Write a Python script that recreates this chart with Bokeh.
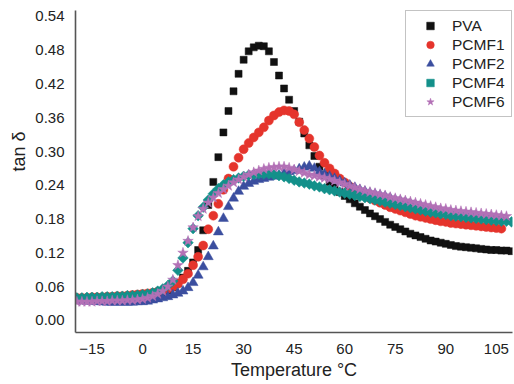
import math
from bokeh.plotting import figure
from bokeh.models import FixedTicker, NumeralTickFormatter, Range1d, Legend, LegendItem
from bokeh.embed import file_html
from bokeh.resources import INLINE

temperature = [-19.5, -18, -16.5, -15, -13.5, -12, -10.5, -9, -7.5, -6, -4.5, -3, -1.5, 0,
               1.5, 3, 4.5, 6, 7.5, 9, 10.5, 12, 13.5, 15, 16.5, 18, 19.5, 21, 22.5, 24,
               25.5, 27, 28.5, 30, 31.5, 33, 34.5, 36, 37.5, 39, 40.5, 42, 43.5, 45, 46.5,
               48, 49.5, 51, 52.5, 54, 55.5, 57, 58.5, 60, 61.5, 63, 64.5, 66, 67.5, 69,
               70.5, 72, 73.5, 75, 76.5, 78, 79.5, 81, 82.5, 84, 85.5, 87, 88.5, 90, 91.5,
               93, 94.5, 96, 97.5, 99, 100.5, 102, 103.5, 105, 106.5, 108, 109.5]

pva = [0.036, 0.036, 0.036, 0.037, 0.037, 0.037, 0.038, 0.038, 0.038, 0.039, 0.039, 0.040, 0.040, 0.041,
       0.042, 0.043, 0.045, 0.048, 0.053, 0.059, 0.066, 0.076, 0.088, 0.103, 0.125, 0.160, 0.205, 0.246,
       0.290, 0.334, 0.372, 0.407, 0.438, 0.463, 0.478, 0.485, 0.488, 0.487, 0.478, 0.459, 0.435, 0.412,
       0.392, 0.372, 0.353, 0.332, 0.311, 0.292, 0.273, 0.258, 0.246, 0.236, 0.228, 0.221, 0.215, 0.208,
       0.202, 0.196, 0.190, 0.185, 0.180, 0.175, 0.170, 0.166, 0.162, 0.158, 0.154, 0.151, 0.148, 0.145,
       0.142, 0.140, 0.138, 0.136, 0.134, 0.132, 0.131, 0.130, 0.129, 0.128, 0.127, 0.126, 0.125, 0.125,
       0.124, 0.124, 0.123]

pcmf1 = [0.040, 0.040, 0.040, 0.041, 0.041, 0.041, 0.042, 0.042, 0.043, 0.043, 0.044, 0.045, 0.046, 0.047,
         0.048, 0.049, 0.051, 0.053, 0.056, 0.060, 0.065, 0.073, 0.083, 0.098, 0.113, 0.133, 0.162, 0.186,
         0.207, 0.232, 0.252, 0.273, 0.289, 0.304, 0.315, 0.325, 0.334, 0.343, 0.355, 0.364, 0.370, 0.373,
         0.372, 0.366, 0.352, 0.338, 0.323, 0.308, 0.293, 0.280, 0.270, 0.261, 0.252, 0.245, 0.238, 0.232,
         0.227, 0.222, 0.217, 0.213, 0.209, 0.205, 0.201, 0.198, 0.195, 0.192, 0.189, 0.186, 0.184, 0.182,
         0.180, 0.178, 0.176, 0.175, 0.173, 0.172, 0.171, 0.170, 0.169, 0.168, 0.167, 0.166, 0.165, 0.164,
         0.163]

pcmf2 = [0.035, 0.035, 0.034, 0.034, 0.033, 0.033, 0.032, 0.032, 0.032, 0.032, 0.032, 0.032, 0.033, 0.033,
         0.034, 0.036, 0.038, 0.040, 0.042, 0.045, 0.048, 0.052, 0.058, 0.067, 0.080, 0.095, 0.113, 0.132,
         0.157, 0.181, 0.202, 0.217, 0.229, 0.238, 0.243, 0.247, 0.250, 0.252, 0.254, 0.256, 0.258, 0.261,
         0.264, 0.266, 0.269, 0.272, 0.274, 0.270, 0.264, 0.260, 0.256, 0.252, 0.248, 0.244, 0.240, 0.236,
         0.232, 0.229, 0.226, 0.224, 0.222, 0.220, 0.217, 0.214, 0.212, 0.210, 0.207, 0.205, 0.203, 0.200,
         0.198, 0.196, 0.194, 0.193, 0.191, 0.190, 0.189, 0.188, 0.187, 0.186, 0.185, 0.184, 0.183, 0.182,
         0.181]

pcmf4 = [0.040, 0.040, 0.041, 0.041, 0.041, 0.042, 0.042, 0.042, 0.043, 0.043, 0.044, 0.044, 0.045, 0.046,
         0.047, 0.049, 0.052, 0.056, 0.062, 0.070, 0.089, 0.111, 0.138, 0.163, 0.186, 0.201, 0.214, 0.225,
         0.234, 0.241, 0.246, 0.250, 0.253, 0.256, 0.258, 0.259, 0.260, 0.260, 0.260, 0.259, 0.257, 0.255,
         0.252, 0.249, 0.246, 0.244, 0.242, 0.239, 0.237, 0.234, 0.232, 0.230, 0.228, 0.226, 0.224, 0.222,
         0.220, 0.218, 0.216, 0.214, 0.212, 0.210, 0.208, 0.206, 0.204, 0.202, 0.200, 0.198, 0.196, 0.194,
         0.192, 0.191, 0.189, 0.188, 0.186, 0.185, 0.184, 0.183, 0.182, 0.181, 0.180, 0.179, 0.178, 0.177,
         0.176, 0.176, 0.175]

pcmf6 = [0.033, 0.033, 0.033, 0.033, 0.034, 0.034, 0.034, 0.035, 0.035, 0.035, 0.036, 0.036, 0.037, 0.038,
         0.040, 0.043, 0.047, 0.052, 0.060, 0.072, 0.098, 0.120, 0.141, 0.165, 0.185, 0.198, 0.209, 0.218,
         0.226, 0.233, 0.239, 0.245, 0.250, 0.255, 0.259, 0.263, 0.266, 0.269, 0.271, 0.272, 0.273, 0.273,
         0.271, 0.268, 0.265, 0.262, 0.259, 0.257, 0.255, 0.253, 0.251, 0.248, 0.245, 0.242, 0.239, 0.236,
         0.233, 0.230, 0.228, 0.226, 0.224, 0.222, 0.219, 0.217, 0.215, 0.213, 0.211, 0.209, 0.207, 0.205,
         0.203, 0.201, 0.199, 0.198, 0.196, 0.195, 0.194, 0.193, 0.192, 0.191, 0.190, 0.189, 0.188, 0.187,
         0.186, 0.185]

series_names = ["PVA", "PCMF1", "PCMF2", "PCMF4", "PCMF6"]
series_values = [pva, pcmf1, pcmf2, pcmf4, pcmf6]
x_ticks = [-15, 0, 15, 30, 45, 60, 75, 90, 105]
y_ticks = [0.00, 0.06, 0.12, 0.18, 0.24, 0.30, 0.36, 0.42, 0.48, 0.54]

styles = [
    dict(marker="square", color="#111111", size=7, angle=0.0),
    dict(marker="circle", color="#e5342c", size=9, angle=0.0),
    dict(marker="triangle", color="#3b4e9f", size=10, angle=0.0),
    dict(marker="square", color="#13908a", size=7.5, angle=math.pi / 4),
    dict(marker="star", color="#b371b6", size=11, angle=0.0),
]

FONT = "Liberation Sans"

p = figure(width=514, height=384, output_backend="svg", toolbar_location=None,
           x_range=Range1d(-19.9, 109.8), y_range=Range1d(-0.0215, 0.5505),
           min_border_left=75, min_border_right=2, min_border_top=10, min_border_bottom=52)
p.outline_line_color = None
p.xgrid.visible = False
p.ygrid.visible = False
p.background_fill_color = "white"
p.border_fill_color = "white"

items = []
for name, vals, st in zip(series_names, series_values, styles):
    r = p.scatter(temperature[:len(vals)], vals, marker=st["marker"], size=st["size"],
                  angle=st["angle"], fill_color=st["color"], line_color=st["color"], line_width=0.5)
    items.append(LegendItem(label=name, renderers=[r]))

for ax in (p.xaxis[0], p.yaxis[0]):
    ax.axis_line_color = "#555555"
    ax.axis_line_width = 1.6
    ax.major_tick_line_color = None
    ax.minor_tick_line_color = None
    ax.major_label_text_font = FONT
    ax.major_label_text_font_size = "15px"
    ax.major_label_text_color = "#222222"
    ax.axis_label_text_font = FONT
    ax.axis_label_text_font_size = "18px"
    ax.axis_label_text_font_style = "normal"
    ax.axis_label_text_color = "#222222"
    ax.major_label_standoff = 5

p.xaxis[0].ticker = FixedTicker(ticks=x_ticks)
p.yaxis[0].ticker = FixedTicker(ticks=y_ticks)
p.yaxis[0].formatter = NumeralTickFormatter(format="0.00")
p.xaxis[0].axis_label = "Temperature \u00b0C"
p.xaxis[0].axis_label_standoff = 3
# leading no-break spaces lift the rotated title a little above centre, as in the reference
p.yaxis[0].axis_label = "\u00a0" * 8 + "tan \u03b4"
p.yaxis[0].axis_label_standoff = 3

legend = Legend(items=items, location="top_right", margin=0, padding=5,
                glyph_width=38, glyph_height=19, label_height=19, label_width=54,
                label_standoff=3, spacing=0,
                label_text_font=FONT, label_text_font_size="15.5px", label_text_color="#222222",
                border_line_color="#888888", border_line_width=1,
                background_fill_color="white", background_fill_alpha=1)
p.add_layout(legend)

open("out.html", "w").write(file_html(p, INLINE))
